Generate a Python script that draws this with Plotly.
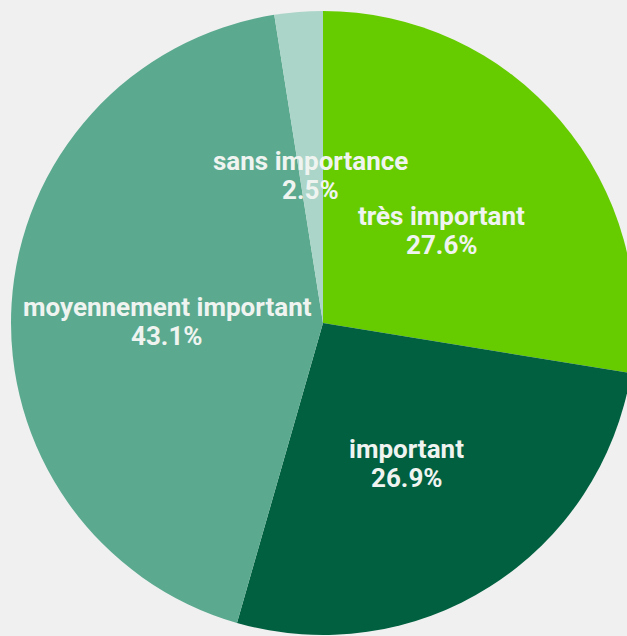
import math
import plotly.graph_objects as go

labels = ["très important", "important", "moyennement important", "sans importance"]
values = [27.6, 26.9, 43.1, 2.5]
colors = ["#66CC00", "#006040", "#5BAA8F", "#ABD5C8"]

fig = go.Figure(go.Pie(
    labels=labels, values=values, sort=False, direction="clockwise", rotation=0,
    marker=dict(colors=colors, line=dict(width=0)),
    textinfo="none", hoverinfo="label+percent", showlegend=False,
))

total = sum(values)
cum = 0.0
r = 0.25
annotations = []
font = dict(family="Roboto", size=26, color="#F0F4F1")
for lab, v in zip(labels, values):
    mid = (cum + v / 2) / total * 2 * math.pi
    cum += v
    x = 0.5 + r * math.sin(mid)
    y = 0.5 + r * math.cos(mid)
    for txt, shift in ((lab, 6), (f"{v:.1f}%", -23)):
        annotations.append(dict(
            x=x, y=y, xref="paper", yref="paper", showarrow=False,
            text=f"<b>{txt}</b>", font=font, yshift=shift,
            xanchor="center", yanchor="middle",
        ))

fig.update_layout(
    width=646, height=646,
    margin=dict(l=11, r=11, t=11, b=11),
    paper_bgcolor="#F0F0F0", plot_bgcolor="#F0F0F0",
    annotations=annotations,
)

fig.write_html(
    "out.html",
    config={"displayModeBar": False},
    post_script="document.body.style.margin='0';document.body.style.overflow='hidden';document.documentElement.style.overflow='hidden';",
)
